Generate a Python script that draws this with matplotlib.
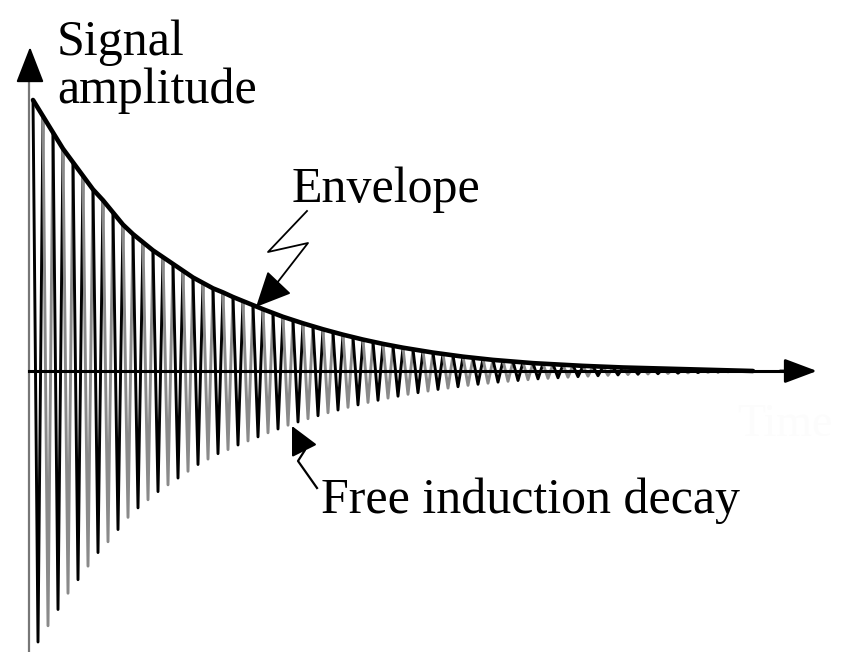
"""Free induction decay sketch: decaying oscillation with its envelope."""

import matplotlib

matplotlib.use("Agg")
import matplotlib.pyplot as plt
import numpy as np
from matplotlib.collections import LineCollection

# peak amplitude of each oscillation cycle, % of the first peak
peak_amp = [
    100, 94, 88, 82, 77, 72, 67, 63, 58.5, 54,
    50.5, 47.5, 44.5, 42, 39.5, 37, 34.5, 32.5, 30.5, 29,
    27.3, 25.8, 24.3, 22.8, 21.4, 20, 18.8, 17.6, 16.5, 15.4,
    14.4, 13.4, 12.5, 11.6, 10.8, 10, 9.3, 8.6, 8, 7.4,
    6.8, 6.3, 5.8, 5.3, 4.9, 4.5, 4.1, 3.8, 3.5, 3.2,
    2.9, 2.7, 2.5, 2.3, 2.1, 1.9, 1.75, 1.6, 1.45, 1.3,
    1.2, 1.1, 1.0, 0.9, 0.8, 0.7, 0.6, 0.5, 0.4, 0.3,
    0.2, 0.1, 0.0,
]
axis_label = ["Signal", "amplitude"]
envelope_label = "Envelope"
fid_label = "Free induction decay"
time_label = "Time"

W, H, DPI = 845, 652, 100
X0, Y0 = 33, 371          # pixel of cycle 0 on the time axis
PX_PER_CYCLE = 10.0
PX_PER_PCT = 2.71


def px(x, y):
    """Pixel position (from top-left) to data coordinates."""
    return (x - X0) / PX_PER_CYCLE, (Y0 - y) / PX_PER_PCT


def arrow(tip, tail, lw, scale, hl=0.8, hw=0.4, z=6):
    ax.annotate("", xy=px(*tip), xytext=px(*tail),
                arrowprops=dict(arrowstyle=f"-|>,head_length={hl},head_width={hw}",
                                color="black", lw=lw, mutation_scale=scale,
                                shrinkA=0, shrinkB=0), zorder=z)


fig = plt.figure(figsize=(W / DPI, H / DPI), dpi=DPI)
ax = fig.add_axes([0, 0, 1, 1])
ax.axis("off")
xlo, yhi = px(0, 0)
xhi, ylo = px(W, H)
ax.set_xlim(xlo, xhi)
ax.set_ylim(ylo, yhi)

amp = np.asarray(peak_amp, dtype=float)
cycle = np.arange(len(amp), dtype=float)

# oscillation: peak at each cycle, trough half a cycle later
segs, cols = [], []
for k in range(len(amp) - 1):
    top0 = (cycle[k], amp[k])
    bot = (cycle[k] + 0.5, -amp[k])
    top1 = (cycle[k + 1], amp[k + 1])
    segs.append([top0, bot, top1])
    cols.append("black" if k % 2 == 0 else "#8a8a8a")
ax.add_collection(LineCollection(segs, colors=cols, linewidths=2.1, zorder=2))

# envelope
ax.plot(cycle, amp, color="black", lw=3.3, solid_capstyle="round", zorder=3)

# axes with arrow heads
ax.plot([px(29, 0)[0]] * 2, [ylo, px(0, 70)[1]], color="#777777", lw=1.6, zorder=1)
arrow((30, 47), (30, 80), lw=1.5, scale=25, hl=0.9, hw=0.35)
ax.plot([px(29, 0)[0], px(800, 0)[0]], [0, 0], color="black", lw=2.2, zorder=4)
arrow((817, 371), (780, 371), lw=2, scale=25, hl=0.8, hw=0.3)

# squiggly pointer to the envelope
ax.plot(*zip(px(307, 211), px(268, 252), px(308, 243), px(270, 292)),
        color="black", lw=1.3)
arrow((256, 307), (274, 288), lw=1.3, scale=26, hl=0.85, hw=0.4)

# squiggly pointer to the FID
ax.plot(*zip(px(317, 488), px(298, 461), px(305, 450), px(301, 442)),
        color="black", lw=1.6)
arrow((292, 426), (302, 446), lw=1.5, scale=22, hl=0.8, hw=0.4)

font = dict(family="Liberation Serif", fontsize=36, color="black")
fig.text(57 / W, 1 - 55 / H, axis_label[0], ha="left", va="baseline", **font)
fig.text(57 / W, 1 - 103 / H, axis_label[1], ha="left", va="baseline", **font)
fig.text(292 / W, 1 - 202 / H, envelope_label, ha="left", va="baseline", **font)
fig.text(321 / W, 1 - 513 / H, fid_label, ha="left", va="baseline", **font)
fig.text(737 / W, 1 - 436 / H, time_label, ha="left", va="baseline",
         family="Liberation Serif", fontsize=33, color="#fcfcfc")

fig.savefig("out.png", dpi=DPI, facecolor="white")
